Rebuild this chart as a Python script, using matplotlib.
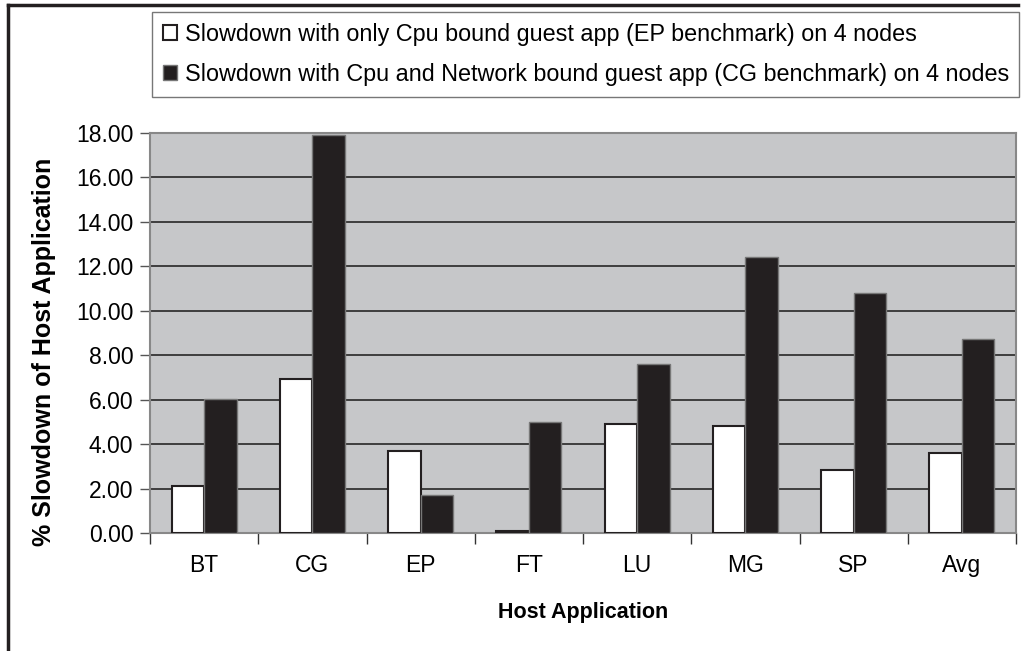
import matplotlib.pyplot as plt
from matplotlib.lines import Line2D
from matplotlib.ticker import FormatStrFormatter, FixedLocator
import numpy as np

plt.rcParams['font.family'] = ['Liberation Sans', 'DejaVu Sans']

categories = ['BT', 'CG', 'EP', 'FT', 'LU', 'MG', 'SP', 'Avg']
cpu_only = [2.10, 6.95, 3.70, 0.10, 4.90, 4.80, 2.85, 3.60]
cpu_network = [6.05, 17.90, 1.70, 5.00, 7.60, 12.40, 10.80, 8.75]
labels = ['Slowdown with only Cpu bound guest app (EP benchmark) on 4 nodes',
          'Slowdown with Cpu and Network bound guest app (CG benchmark) on 4 nodes']

fig = plt.figure(figsize=(10.24, 6.51), dpi=100)
ax = fig.add_axes([150 / 1024, 118 / 651, 866 / 1024, 400 / 651])
ax.set_facecolor('#c6c7c9')

x = np.arange(len(categories))
w = 0.3
b1 = ax.bar(x - w / 2, cpu_only, w, color='white', edgecolor='#231f20', linewidth=1.5,
            label=labels[0], zorder=3)
b2 = ax.bar(x + w / 2, cpu_network, w, color='#231f20', edgecolor='#777777', linewidth=1.0,
            label=labels[1], zorder=3)

ax.set_xlim(-0.5, len(categories) - 0.5)
ax.set_ylim(0, 18)
ax.set_yticks(np.arange(0, 18.01, 2))
ax.yaxis.set_major_formatter(FormatStrFormatter('%.2f'))
ax.yaxis.grid(True, color='#333333', linewidth=1.3, zorder=1)
ax.set_axisbelow(True)

ax.set_xticks(x)
ax.set_xticklabels(categories)
ax.xaxis.set_minor_locator(FixedLocator(np.arange(-0.5, len(categories), 1)))
ax.tick_params(axis='x', which='major', length=0, pad=15, labelsize=16.5)
ax.tick_params(axis='x', which='minor', length=8, width=1, color='#333333')
ax.tick_params(axis='y', length=7, width=1, color='#555555', labelsize=16.5, pad=5)

for s in ax.spines.values():
    s.set_color('#888888')
    s.set_linewidth(1.5)

ax.set_xlabel('Host Application', fontsize=15.5, fontweight='bold', labelpad=18)
ax.set_ylabel('% Slowdown of Host Application', fontsize=18, fontweight='bold')
ax.yaxis.set_label_coords(-0.108, 0.4525)

leg = fig.legend(handles=[b1, b2], loc='upper left', bbox_to_anchor=(152 / 1024, 1 - 12 / 651),
                 fontsize=16.8, frameon=True, fancybox=False, edgecolor='#555555',
                 handlelength=0.6, handleheight=0.6, handletextpad=0.35, borderpad=0.45,
                 labelspacing=0.75, borderaxespad=0)
leg.get_frame().set_linewidth(1.0)

fig.add_artist(Line2D([8 / 1024, 1018 / 1024], [1 - 5 / 651, 1 - 5 / 651], color='#231f20',
                      linewidth=2.5, transform=fig.transFigure))
fig.add_artist(Line2D([8 / 1024, 8 / 1024], [0, 1 - 5 / 651], color='#231f20', linewidth=2.5,
                      transform=fig.transFigure))

fig.savefig('out.png', dpi=100)
